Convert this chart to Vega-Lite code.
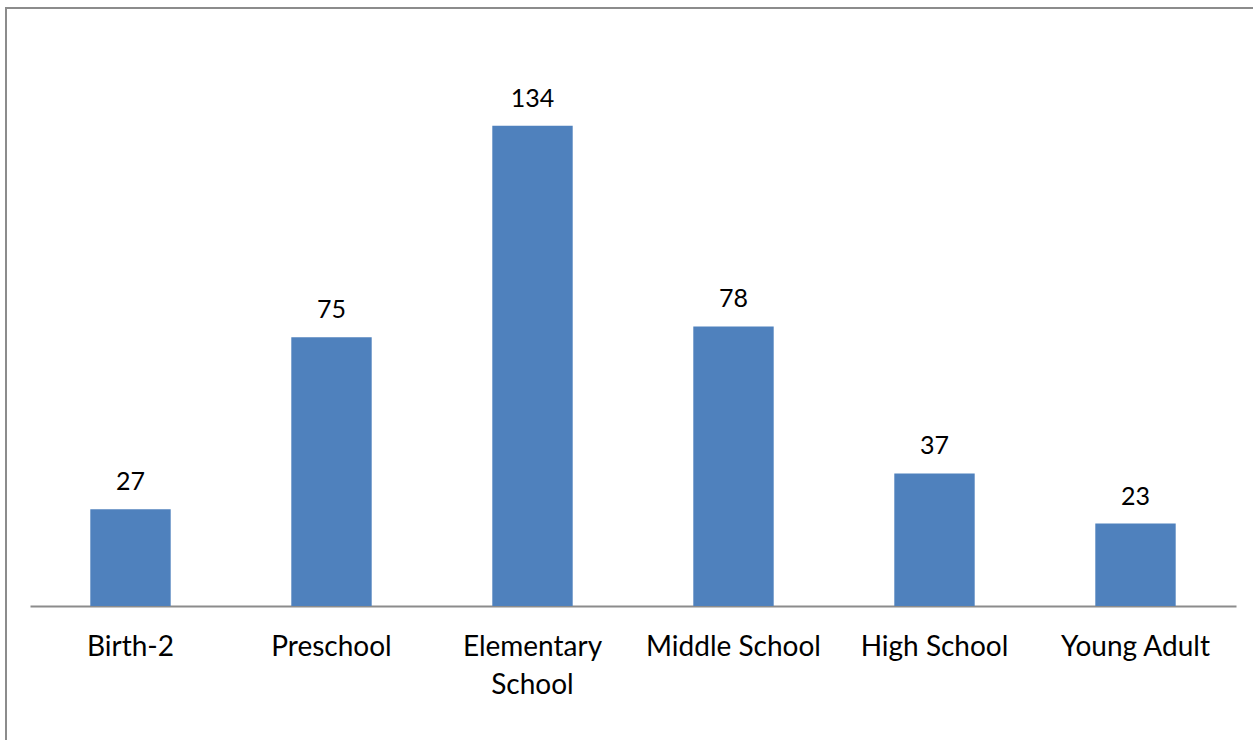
{
  "$schema": "https://vega.github.io/schema/vega-lite/v6.json",
  "autosize": "none",
  "padding": {"left": 6, "top": 8, "right": 0, "bottom": 0},
  "width": 1254,
  "height": 740,
  "background": "white",
  "config": {
    "view": {"stroke": "#8c8c8c", "strokeWidth": 2},
    "font": "Lato"
  },
  "data": {
    "values": [
      {"category": "Birth-2", "value": 27},
      {"category": "Preschool", "value": 75},
      {"category": "Elementary School", "value": 134},
      {"category": "Middle School", "value": 78},
      {"category": "High School", "value": 37},
      {"category": "Young Adult", "value": 23}
    ]
  },
  "encoding": {
    "x": {
      "field": "category",
      "type": "nominal",
      "sort": null,
      "scale": {"range": [24, 1230], "paddingInner": 0.6, "paddingOuter": 0.3},
      "axis": {
        "title": null,
        "offset": -142,
        "labelAngle": 0,
        "labelFont": "Lato",
        "labelFontSize": 28,
        "labelColor": "#000000",
        "labelPadding": 27,
        "labelLineHeight": 38,
        "labelExpr": "datum.label == 'Elementary School' ? ['Elementary', 'School'] : datum.label",
        "ticks": false,
        "domainColor": "#8c8c8c",
        "domainWidth": 2,
        "grid": false
      }
    },
    "y": {
      "field": "value",
      "type": "quantitative",
      "scale": {"domain": [0, 160], "range": [598, 24.6], "nice": false},
      "axis": null
    }
  },
  "layer": [
    {"mark": {"type": "bar", "color": "#4F81BD"}},
    {
      "mark": {"type": "text", "baseline": "alphabetic", "dy": -19, "fontSize": 25, "font": "Lato", "color": "#000000"},
      "encoding": {"text": {"field": "value", "type": "quantitative"}}
    }
  ]
}
